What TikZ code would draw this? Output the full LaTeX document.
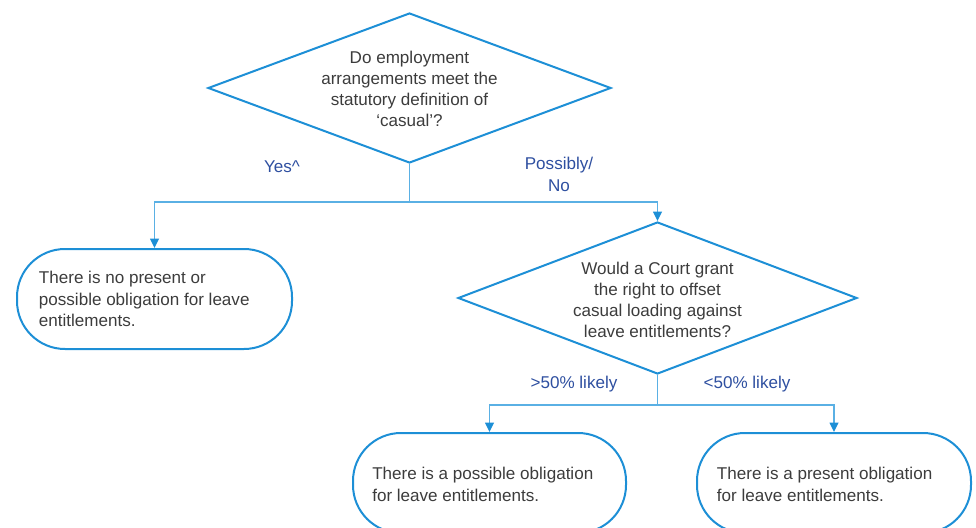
\documentclass[tikz,border=0pt]{standalone}
\usepackage{fontspec}
\setmainfont{Liberation Sans}
\usetikzlibrary{shapes.geometric,arrows.meta}
\definecolor{shapeblue}{HTML}{1D8FD6}
\definecolor{connblue}{HTML}{5AB0E4}
\definecolor{labelblue}{HTML}{2E4FA0}
\definecolor{txtgray}{HTML}{3C3C3C}
\begin{document}
\begin{tikzpicture}[x=0.75pt,y=-0.75pt,
  decision/.style={diamond,draw=shapeblue,line width=1.5pt,inner sep=0pt},
  outcome/.style={rectangle,draw=shapeblue,line width=1.5pt,rounded corners=36pt,minimum height=75pt,inner sep=0pt},
  qtext/.style={align=center,text=txtgray,font=\fontsize{12.8}{15.6}\selectfont,inner sep=0pt},
  otext/.style={align=left,text=txtgray,font=\fontsize{12.8}{16.2}\selectfont,inner sep=0pt,anchor=west},
  lbl/.style={align=center,text=labelblue,font=\fontsize{12.8}{16.5}\selectfont,inner sep=0pt},
  conn/.style={draw=connblue,line width=1.1pt,-{Triangle[width=6.5pt,length=7pt,color=shapeblue]}}
]
\useasboundingbox (0,0) rectangle (976,528);
\clip (0,0) rectangle (976,528);

% decisions
\node[decision,minimum width=302.25pt,minimum height=112.5pt] (d1) at (409.5,88) {};
\node[qtext] (d1t) at (409.5,89) {Do employment\\arrangements meet the\\statutory definition of\\‘casual’?};

\node[decision,minimum width=299.25pt,minimum height=114pt] (d2) at (657.5,298) {};
\node[qtext] (d2t) at (657.5,300) {Would a Court grant\\the right to offset\\casual loading against\\leave entitlements?};

% outcomes
\node[outcome,minimum width=206.25pt] (o1) at (154.5,299) {};
\node[otext] (o1t) at ([xshift=17pt]o1.west) {There is no present or\\possible obligation for leave\\entitlements.};

\node[outcome,minimum width=204.75pt] (o2) at (489.5,483) {};
\node[otext] (o2t) at ([xshift=15pt,yshift=-1pt]o2.west) {There is a possible obligation\\for leave entitlements.};

\node[outcome,minimum width=205.5pt] (o3) at (834,483) {};
\node[otext] (o3t) at ([xshift=15.5pt,yshift=-1pt]o3.west) {There is a present obligation\\for leave entitlements.};

% connectors
\draw[conn] (d1.south) -- ++(0,38) -| (o1.north);
\draw[conn] (d1.south) -- ++(0,38) -| (d2.north);
\draw[conn] (d2.south) -- ++(0,30) -| (o2.north);
\draw[conn] (d2.south) -- ++(0,30) -| (o3.north);

% labels
\node[lbl] (l1) at (282,167) {Yes\textasciicircum};
\node[lbl] (l2) at (559,174) {Possibly/\\No};
\node[lbl] (l3) at (574,384) {>50\% likely};
\node[lbl] (l4) at (747,384) {<50\% likely};
\end{tikzpicture}
\end{document}
